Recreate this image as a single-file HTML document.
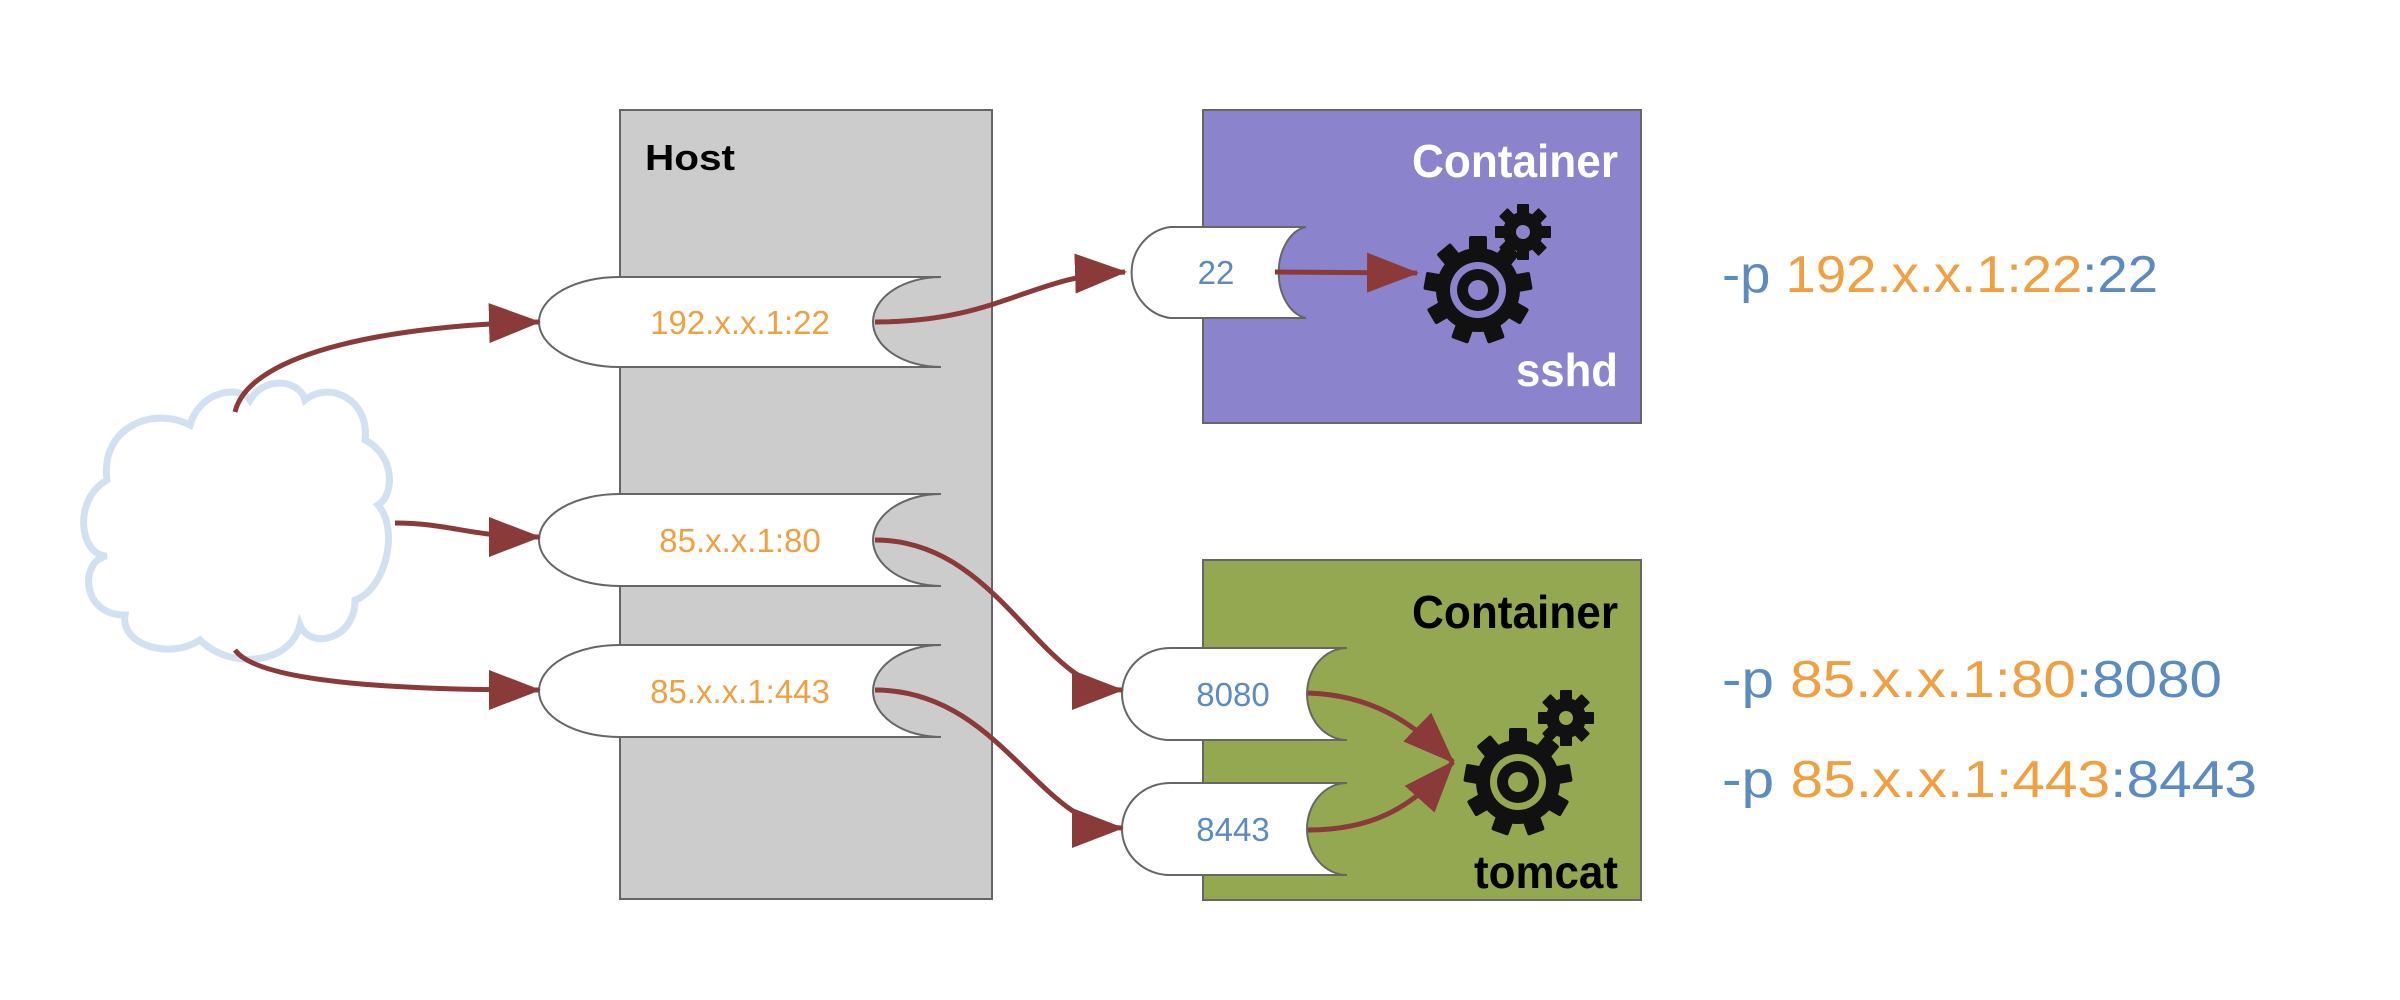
<!DOCTYPE html>
<html><head><meta charset="utf-8"><style>
html,body{margin:0;padding:0;background:#fff;}
svg{display:block;}
text{font-family:"Liberation Sans",sans-serif;}
</style></head><body>
<svg width="2400" height="1000" viewBox="0 0 2400 1000" xmlns="http://www.w3.org/2000/svg">
<defs>
<marker id="ah" markerUnits="userSpaceOnUse" markerWidth="54" markerHeight="40" refX="50" refY="20" orient="auto">
<path d="M0,0 L52,20 L0,40 Z" fill="#8b3a3a"/>
</marker>
<g id="gearB">
<g fill="#111">
<circle r="42"/>
<rect x="-9" y="-54" width="18" height="20" rx="2"/>
<rect x="-9" y="-54" width="18" height="20" rx="2" transform="rotate(40)"/>
<rect x="-9" y="-54" width="18" height="20" rx="2" transform="rotate(80)"/>
<rect x="-9" y="-54" width="18" height="20" rx="2" transform="rotate(120)"/>
<rect x="-9" y="-54" width="18" height="20" rx="2" transform="rotate(160)"/>
<rect x="-9" y="-54" width="18" height="20" rx="2" transform="rotate(200)"/>
<rect x="-9" y="-54" width="18" height="20" rx="2" transform="rotate(240)"/>
<rect x="-9" y="-54" width="18" height="20" rx="2" transform="rotate(280)"/>
<rect x="-9" y="-54" width="18" height="20" rx="2" transform="rotate(320)"/>
</g>
</g>
<g id="gearS">
<g fill="#111">
<circle r="20"/>
<rect x="-6" y="-28" width="12" height="12" rx="1"/>
<rect x="-6" y="-28" width="12" height="12" rx="1" transform="rotate(45)"/>
<rect x="-6" y="-28" width="12" height="12" rx="1" transform="rotate(90)"/>
<rect x="-6" y="-28" width="12" height="12" rx="1" transform="rotate(135)"/>
<rect x="-6" y="-28" width="12" height="12" rx="1" transform="rotate(180)"/>
<rect x="-6" y="-28" width="12" height="12" rx="1" transform="rotate(225)"/>
<rect x="-6" y="-28" width="12" height="12" rx="1" transform="rotate(270)"/>
<rect x="-6" y="-28" width="12" height="12" rx="1" transform="rotate(315)"/>
</g>
</g>
</defs>

<!-- Host -->
<rect x="620" y="110" width="372" height="789" fill="#cccccc" stroke="#666" stroke-width="2"/>
<text x="645" y="170" font-size="36" font-weight="bold" fill="#000" textLength="90" lengthAdjust="spacingAndGlyphs">Host</text>

<!-- Containers -->
<rect x="1203" y="110" width="438" height="313" fill="#8b84cc" stroke="#666" stroke-width="2"/>
<text x="1412" y="177" font-size="46" font-weight="bold" fill="#fff" textLength="206" lengthAdjust="spacingAndGlyphs">Container</text>
<text x="1516" y="386" font-size="46" font-weight="bold" fill="#fff" textLength="102" lengthAdjust="spacingAndGlyphs">sshd</text>

<rect x="1203" y="560" width="438" height="340" fill="#93a850" stroke="#666" stroke-width="2"/>
<text x="1412" y="628" font-size="46" font-weight="bold" fill="#000" textLength="206" lengthAdjust="spacingAndGlyphs">Container</text>
<text x="1474" y="888" font-size="46" font-weight="bold" fill="#000" textLength="144" lengthAdjust="spacingAndGlyphs">tomcat</text>

<!-- Cloud -->
<g fill="#fff" stroke="#d2e1f2" stroke-width="7">
<path d="M107,556 C80,556 72,500 107,480 C100,430 150,405 190,425 C200,390 240,385 250,400 C265,375 300,380 305,400 C330,380 370,400 365,440 C395,455 395,495 378,505 C400,530 385,590 355,600 C355,640 310,650 300,625 C290,665 230,670 200,640 C170,660 120,645 125,615 C80,615 80,560 107,556 Z"/>
</g>

<!-- Host tabs -->
<g fill="#fff" stroke="#666" stroke-width="2">
<path d="M619,277 L941,277 A68,45 0 0 0 941,367 L619,367 A80,45 0 0 1 619,277 Z"/>
<path d="M619,494 L941,494 A68,46 0 0 0 941,586 L619,586 A80,46 0 0 1 619,494 Z"/>
<path d="M619,645 L941,645 A68,46 0 0 0 941,737 L619,737 A80,46 0 0 1 619,645 Z"/>
<path d="M1170,227 L1306,227 A32,46 0 0 0 1306,318 L1170,318 A45,46 0 0 1 1170,227 Z"/>
<path d="M1170,648 L1347,648 A40,46 0 0 0 1347,740 L1170,740 A48,46 0 0 1 1170,648 Z"/>
<path d="M1170,783 L1347,783 A40,46 0 0 0 1347,875 L1170,875 A48,46 0 0 1 1170,783 Z"/>
</g>
<g font-size="33" fill="#f0a040" text-anchor="middle">
<text x="740" y="334">192.x.x.1:22</text>
<text x="740" y="552">85.x.x.1:80</text>
<text x="740" y="703">85.x.x.1:443</text>
</g>
<g font-size="33" fill="#5b8bc0" text-anchor="middle">
<text x="1216" y="284">22</text>
<text x="1233" y="706">8080</text>
<text x="1233" y="841">8443</text>
</g>

<!-- Gears -->
<g transform="translate(1478,290)"><use href="#gearB"/><circle r="28" fill="#8b84cc"/><circle r="21" fill="#111"/><circle r="10" fill="#8b84cc"/></g>
<g transform="translate(1523,232)"><use href="#gearS"/><circle r="7" fill="#8b84cc"/></g>
<g transform="translate(1518,782)"><use href="#gearB"/><circle r="28" fill="#93a850"/><circle r="21" fill="#111"/><circle r="10" fill="#93a850"/></g>
<g transform="translate(1566,718)"><use href="#gearS"/><circle r="7" fill="#93a850"/></g>

<!-- Arrows -->
<g fill="none" stroke="#8b3a3a" stroke-width="5">
<path d="M235,412 C250,350 400,325 539,322" marker-end="url(#ah)"/>
<path d="M395,523 C450,523 470,537 539,537" marker-end="url(#ah)"/>
<path d="M235,650 C260,685 420,690 539,690" marker-end="url(#ah)"/>
<path d="M875,322 C1000,322 1030,275 1125,272" marker-end="url(#ah)"/>
<path d="M1275,272 L1417,273" marker-end="url(#ah)"/>
<path d="M875,540 C1000,540 1040,690 1122,690" marker-end="url(#ah)"/>
<path d="M875,690 C1000,690 1040,828 1122,828" marker-end="url(#ah)"/>
<path d="M1308,693 C1370,695 1410,720 1453,762" marker-end="url(#ah)"/>
<path d="M1308,830 C1370,830 1410,810 1453,762" marker-end="url(#ah)"/>
</g>

<!-- Commands -->
<g font-size="52">
<text x="1722" y="292" textLength="436" lengthAdjust="spacingAndGlyphs"><tspan fill="#5b8bc0">-p </tspan><tspan fill="#f0a040">192.x.x.1:22</tspan><tspan fill="#5b8bc0">:22</tspan></text>
<text x="1722" y="697" textLength="500" lengthAdjust="spacingAndGlyphs"><tspan fill="#5b8bc0">-p </tspan><tspan fill="#f0a040">85.x.x.1:80</tspan><tspan fill="#5b8bc0">:8080</tspan></text>
<text x="1722" y="797" textLength="535" lengthAdjust="spacingAndGlyphs"><tspan fill="#5b8bc0">-p </tspan><tspan fill="#f0a040">85.x.x.1:443</tspan><tspan fill="#5b8bc0">:8443</tspan></text>
</g>
</svg>
</body></html>
